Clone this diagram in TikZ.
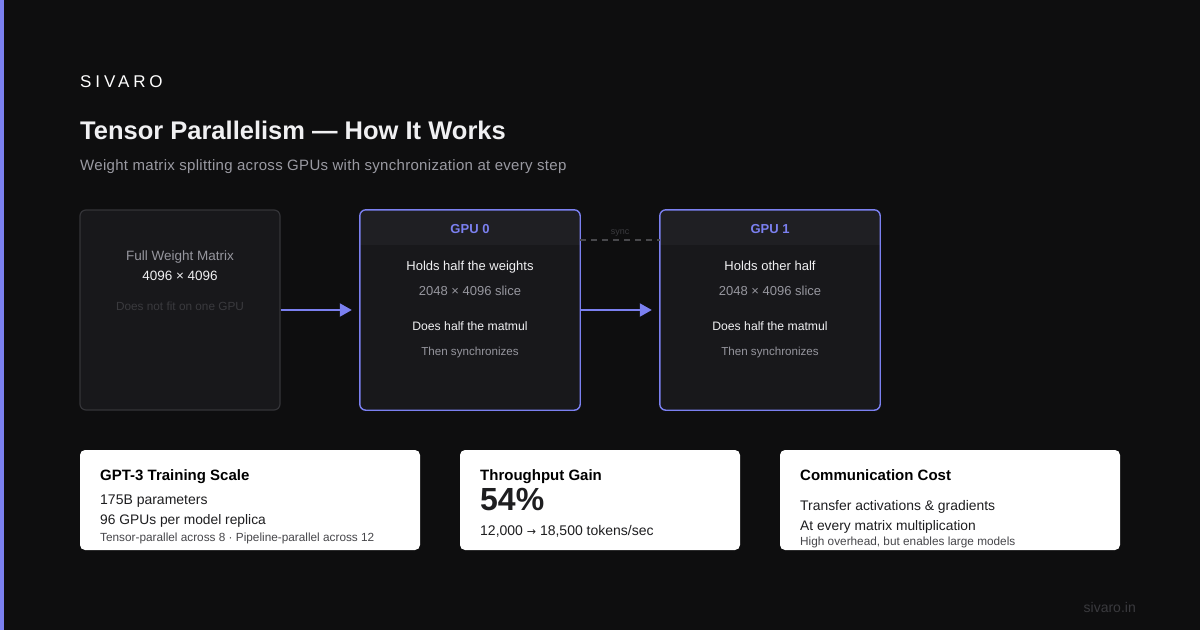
\documentclass[tikz,border=0pt]{standalone}
\usepackage{fontspec}
\setmainfont{Liberation Sans}
\newfontfamily\symfont{DejaVu Sans}
\usetikzlibrary{arrows.meta,calc}
\definecolor{bg}{RGB}{14,14,15}
\definecolor{accent}{RGB}{123,128,240}
\definecolor{boxfill}{RGB}{24,24,27}
\definecolor{headfill}{RGB}{31,31,35}
\definecolor{boxline}{RGB}{52,52,56}
\definecolor{subgray}{RGB}{154,154,162}
\definecolor{midgray}{RGB}{150,150,158}
\definecolor{dimgray}{RGB}{58,58,62}
\definecolor{dashgray}{RGB}{72,72,76}
\definecolor{textwhite}{RGB}{240,240,242}
\definecolor{cardtext}{RGB}{30,30,32}
\definecolor{cardsmall}{RGB}{70,70,74}
\newcommand{\fs}[1]{\fontsize{#1}{#1}\selectfont}
\tikzset{
  txt/.style={inner sep=0pt, anchor=base},
  ltxt/.style={inner sep=0pt, anchor=base west},
  darkbox/.style={draw=boxline, line width=1.2pt, fill=boxfill, rounded corners=6pt, minimum width=200pt, minimum height=200pt, inner sep=0pt},
  gpubox/.style={fill=boxfill, rounded corners=6pt, minimum width=220pt, minimum height=200pt, inner sep=0pt},
  card/.style={fill=white, rounded corners=5pt, inner sep=0pt, minimum height=100pt},
  flow/.style={draw=accent, line width=2pt, -{Triangle[length=12pt,width=13pt]}},
}
\begin{document}
\begin{tikzpicture}[x=1pt,y=-1pt]
\useasboundingbox (0,0) rectangle (1200,630);
\fill[bg] (0,0) rectangle (1200,630);
\fill[accent] (0,0) rectangle (4,630);

\node[ltxt, text=white] (brand) at (80,87) {\fs{17}\addfontfeatures{LetterSpace=23}SIVARO};
\node[ltxt, text=textwhite] (title) at (80,139) {\fs{25.5}\bfseries Tensor Parallelism — How It Works};
\node[ltxt, text=subgray] (subtitle) at (80,170) {\fs{15}\addfontfeatures{LetterSpace=2}Weight matrix splitting across GPUs with synchronization at every step};

% full matrix box
\node[darkbox] (full) at (180,310) {};
\node[txt, text=midgray] (full1) at (180,260) {\fs{13.5}Full Weight Matrix};
\node[txt, text=textwhite] (full2) at (180,280) {\fs{13.5}4096 × 4096};
\node[txt, text=dimgray] (full3) at (180,310) {\fs{11.8}Does not fit on one GPU};

% GPU boxes
\foreach \n/\cx in {gpu0/470,gpu1/770}{
  \node[gpubox] (\n) at (\cx,310) {};
  \begin{scope}
    \clip[rounded corners=6pt] (\n.north west) rectangle (\n.south east);
    \fill[headfill] (\n.north west) rectangle ($(\n.north east)+(0,35)$);
  \end{scope}
  \draw[accent, line width=1.4pt, rounded corners=6pt] (\n.north west) rectangle (\n.south east);
}
\node[txt, text=accent] (g0h) at (470,233) {\fs{13}\bfseries GPU 0};
\node[txt, text=textwhite] (g0a) at (470,270) {\fs{13}Holds half the weights};
\node[txt, text=midgray] (g0b) at (470,295) {\fs{13}2048 × 4096 slice};
\node[txt, text=textwhite] (g0c) at (470,330) {\fs{12.2}Does half the matmul};
\node[txt, text=midgray] (g0d) at (470,355) {\fs{11.6}Then synchronizes};

\node[txt, text=accent] (g1h) at (770,233) {\fs{13}\bfseries GPU 1};
\node[txt, text=textwhite] (g1a) at (770,270) {\fs{13}Holds other half};
\node[txt, text=midgray] (g1b) at (770,295) {\fs{13}2048 × 4096 slice};
\node[txt, text=textwhite] (g1c) at (770,330) {\fs{12.2}Does half the matmul};
\node[txt, text=midgray] (g1d) at (770,355) {\fs{11.6}Then synchronizes};

% connectors
\draw[flow] (full.east) -- ($(gpu0.west)+(-8,0)$);
\draw[flow] (gpu0.east) -- ($(gpu1.west)+(-8,0)$);
\draw[dashgray, line width=1.6pt, dash pattern=on 6pt off 5pt] ($(gpu0.north east)+(0,30)$) -- node[above=1.5pt, text=dimgray, inner sep=1pt] (synclbl) {\fs{9}sync} ($(gpu1.north west)+(0,30)$);

% cards
\node[card, minimum width=340pt] (c1) at (250,500) {};
\node[card, minimum width=280pt] (c2) at (600,500) {};
\node[card, minimum width=340pt] (c3) at (950,500) {};

\node[ltxt, text=black] (c1t) at (100,480) {\fs{15}\bfseries GPT-3 Training Scale};
\node[ltxt, text=cardtext] (c1a) at (100,504) {\fs{14}175B parameters};
\node[ltxt, text=cardtext] (c1b) at (100,524) {\fs{13.8}96 GPUs per model replica};
\node[ltxt, text=cardsmall] (c1c) at (100,541) {\fs{11.8}Tensor-parallel across 8 · Pipeline-parallel across 12};

\node[ltxt, text=black] (c2t) at (480,480) {\fs{15}\bfseries Throughput Gain};
\node[ltxt, text=cardtext] (c2a) at (480,510) {\fs{32}\bfseries 54\%};
\node[ltxt, text=cardtext] (c2b) at (480,535) {\fs{14}12,000\ {\symfont\fs{11}→}\ 18,500 tokens/sec};

\node[ltxt, text=black] (c3t) at (800,480) {\fs{15}\bfseries Communication Cost};
\node[ltxt, text=cardtext] (c3a) at (800,510) {\fs{13.9}Transfer activations \& gradients};
\node[ltxt, text=cardtext] (c3b) at (800,530) {\fs{13.8}At every matrix multiplication};
\node[ltxt, text=cardsmall] (c3c) at (800,545) {\fs{11.8}High overhead, but enables large models};

\node[txt, anchor=base east, text=dimgray] (site) at (1136,612) {\fs{14}sivaro.in};
\end{tikzpicture}
\end{document}
